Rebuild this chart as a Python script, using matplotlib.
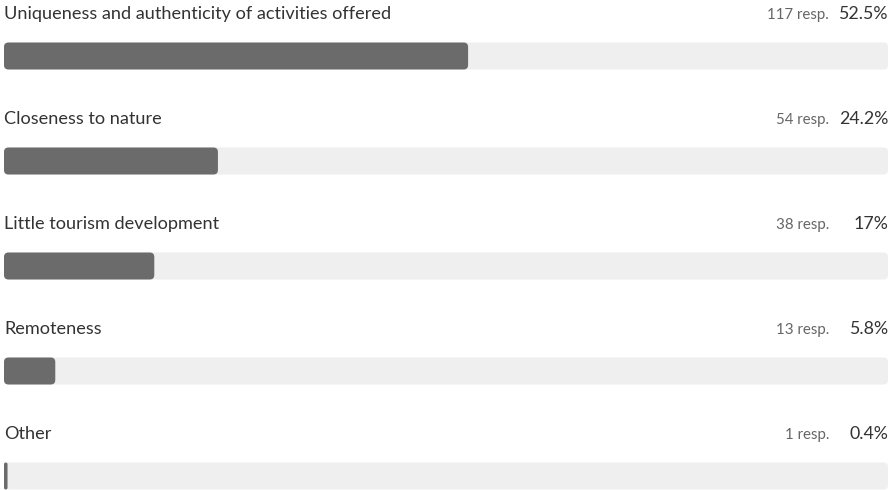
import matplotlib
matplotlib.use("Agg")
import matplotlib.pyplot as plt
from matplotlib.patches import FancyBboxPatch

categories = [
    "Uniqueness and authenticity of activities offered",
    "Closeness to nature",
    "Little tourism development",
    "Remoteness",
    "Other",
]
responses = [117, 54, 38, 13, 1]
percents = [52.5, 24.2, 17, 5.8, 0.4]
pct_labels = ["52.5%", "24.2%", "17%", "5.8%", "0.4%"]

W, H = 890, 490
fig = plt.figure(figsize=(W / 100, H / 100), dpi=100)
ax = fig.add_axes([0, 0, 1, 1])
ax.set_axis_off()

left_px, right_px = 4, 888
px_per_pct = (right_px - left_px) / 100.0
row_px = 105.0
first_center_px = 56.0
ax.set_xlim(-left_px / px_per_pct, (W - left_px) / px_per_pct)
ax.set_ylim((H - first_center_px) / row_px, -first_center_px / row_px)

bar_h = 27 / row_px
radius_px = 4.5
aspect = px_per_pct / row_px

font = "Lato"
track_color = "#efefef"
fill_color = "#6b6b6b"

for i, (cat, n, p, pl) in enumerate(zip(categories, responses, percents, pct_labels)):
    r = radius_px / px_per_pct
    track = FancyBboxPatch((0, i - bar_h / 2), 100, bar_h,
                           boxstyle=f"round,pad=0,rounding_size={r}",
                           mutation_aspect=aspect, fc=track_color, ec="none")
    ax.add_patch(track)
    rr = min(r, p / 2)
    fill = FancyBboxPatch((0, i - bar_h / 2), p, bar_h,
                          boxstyle=f"round,pad=0,rounding_size={rr}",
                          mutation_aspect=aspect, fc=fill_color, ec="none")
    ax.add_patch(fill)
    base_y = i + (19.5 - first_center_px) / row_px
    ax.text(0, base_y, cat, fontsize=13.1, family=font, color="#333333",
            ha="left", va="baseline")
    ax.text(100, base_y, pl, fontsize=12.8, family=font, color="#333333",
            ha="right", va="baseline")
    ax.text((829 - left_px) / px_per_pct, base_y, f"{n} resp.", fontsize=10.8,
            family=font, color="#666666", ha="right", va="baseline")

fig.savefig("out.png", dpi=100, facecolor="white")
